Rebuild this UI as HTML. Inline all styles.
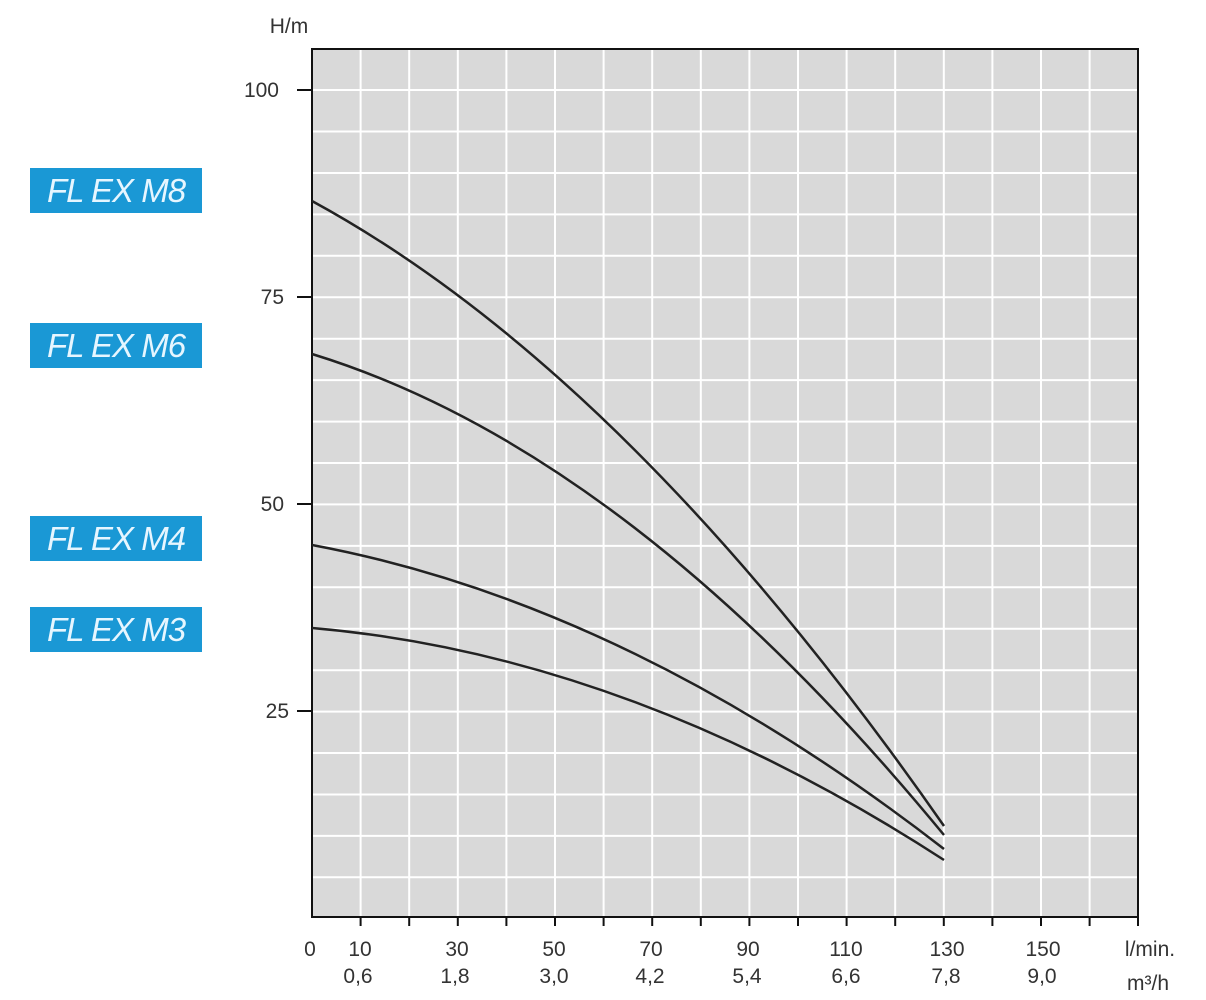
<!DOCTYPE html>
<html><head><meta charset="utf-8"><style>
body{margin:0;background:#fff;width:1206px;height:1000px;overflow:hidden;position:relative;font-family:"Liberation Sans",sans-serif}
.lb{position:absolute;left:30px;width:172px;height:45px;background:#1a98d5;color:#e6f6ff;font-style:italic;font-size:33px;line-height:45px;text-align:center;letter-spacing:-1px}
</style></head><body>
<div class="lb" style="top:168px">FL EX M8</div>
<div class="lb" style="top:323px">FL EX M6</div>
<div class="lb" style="top:516px">FL EX M4</div>
<div class="lb" style="top:607px">FL EX M3</div>
<svg width="1206" height="1000" style="position:absolute;left:0;top:0" font-family="Liberation Sans, sans-serif" fill="#333">
<rect x="312" y="49" width="826" height="868" fill="#d9d9d9"/>
<g stroke="#fff" stroke-width="2">
<line x1="360.6" y1="49" x2="360.6" y2="917"/><line x1="409.2" y1="49" x2="409.2" y2="917"/><line x1="457.8" y1="49" x2="457.8" y2="917"/><line x1="506.4" y1="49" x2="506.4" y2="917"/><line x1="555" y1="49" x2="555" y2="917"/><line x1="603.6" y1="49" x2="603.6" y2="917"/><line x1="652.2" y1="49" x2="652.2" y2="917"/><line x1="700.8" y1="49" x2="700.8" y2="917"/><line x1="749.4" y1="49" x2="749.4" y2="917"/><line x1="798" y1="49" x2="798" y2="917"/><line x1="846.6" y1="49" x2="846.6" y2="917"/><line x1="895.2" y1="49" x2="895.2" y2="917"/><line x1="943.8" y1="49" x2="943.8" y2="917"/><line x1="992.4" y1="49" x2="992.4" y2="917"/><line x1="1041" y1="49" x2="1041" y2="917"/><line x1="1089.6" y1="49" x2="1089.6" y2="917"/>
<line x1="312" y1="90" x2="1138" y2="90"/><line x1="312" y1="131.5" x2="1138" y2="131.5"/><line x1="312" y1="173" x2="1138" y2="173"/><line x1="312" y1="214.4" x2="1138" y2="214.4"/><line x1="312" y1="255.8" x2="1138" y2="255.8"/><line x1="312" y1="297.3" x2="1138" y2="297.3"/><line x1="312" y1="338.7" x2="1138" y2="338.7"/><line x1="312" y1="380.1" x2="1138" y2="380.1"/><line x1="312" y1="421.6" x2="1138" y2="421.6"/><line x1="312" y1="463" x2="1138" y2="463"/><line x1="312" y1="504.4" x2="1138" y2="504.4"/><line x1="312" y1="545.9" x2="1138" y2="545.9"/><line x1="312" y1="587.3" x2="1138" y2="587.3"/><line x1="312" y1="628.7" x2="1138" y2="628.7"/><line x1="312" y1="670.2" x2="1138" y2="670.2"/><line x1="312" y1="711.6" x2="1138" y2="711.6"/><line x1="312" y1="753" x2="1138" y2="753"/><line x1="312" y1="794.5" x2="1138" y2="794.5"/><line x1="312" y1="835.9" x2="1138" y2="835.9"/><line x1="312" y1="877.3" x2="1138" y2="877.3"/>
</g>
<rect x="312" y="49" width="826" height="868" fill="none" stroke="#111" stroke-width="2"/>
<g stroke="#111" stroke-width="2">
<line x1="297" y1="90" x2="311" y2="90"/><line x1="297" y1="297" x2="311" y2="297"/><line x1="297" y1="504" x2="311" y2="504"/><line x1="297" y1="711" x2="311" y2="711"/>
<line x1="360.6" y1="917" x2="360.6" y2="926"/><line x1="409.2" y1="917" x2="409.2" y2="926"/><line x1="457.8" y1="917" x2="457.8" y2="926"/><line x1="506.4" y1="917" x2="506.4" y2="926"/><line x1="555" y1="917" x2="555" y2="926"/><line x1="603.6" y1="917" x2="603.6" y2="926"/><line x1="652.2" y1="917" x2="652.2" y2="926"/><line x1="700.8" y1="917" x2="700.8" y2="926"/><line x1="749.4" y1="917" x2="749.4" y2="926"/><line x1="798" y1="917" x2="798" y2="926"/><line x1="846.6" y1="917" x2="846.6" y2="926"/><line x1="895.2" y1="917" x2="895.2" y2="926"/><line x1="943.8" y1="917" x2="943.8" y2="926"/><line x1="992.4" y1="917" x2="992.4" y2="926"/><line x1="1041" y1="917" x2="1041" y2="926"/><line x1="1089.6" y1="917" x2="1089.6" y2="926"/><line x1="1138" y1="917" x2="1138" y2="926"/>
</g>
<g fill="none" stroke="#222" stroke-width="2.5">
<path d="M312,201 Q628,373 944,826"/>
<path d="M312,354 Q628,451 944,835"/>
<path d="M312,545 Q628,604 944,849"/>
<path d="M312,628 Q628,655 944,860"/>
</g>
<g font-size="21" text-anchor="middle">
<text x="289" y="33">H/m</text>
<text x="279" y="97" text-anchor="end">100</text>
<text x="284" y="304" text-anchor="end">75</text>
<text x="284" y="511" text-anchor="end">50</text>
<text x="289" y="718" text-anchor="end">25</text>
<text x="310" y="956">0</text>
<text x="360" y="956">10</text><text x="457" y="956">30</text><text x="554" y="956">50</text><text x="651" y="956">70</text><text x="748" y="956">90</text><text x="846" y="956">110</text><text x="947" y="956">130</text><text x="1043" y="956">150</text>
<text x="358" y="983">0,6</text><text x="455" y="983">1,8</text><text x="554" y="983">3,0</text><text x="650" y="983">4,2</text><text x="747" y="983">5,4</text><text x="846" y="983">6,6</text><text x="946" y="983">7,8</text><text x="1042" y="983">9,0</text>
<text x="1150" y="956">l/min.</text>
<text x="1148" y="990">m³/h</text>
</g>
</svg>
</body></html>
